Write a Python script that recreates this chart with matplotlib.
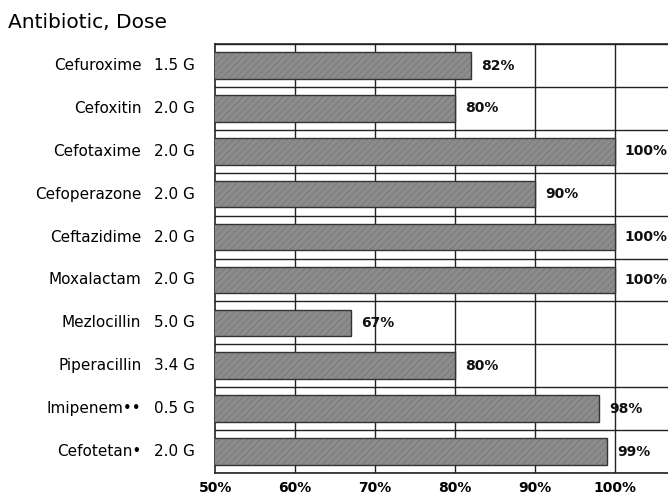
import matplotlib
matplotlib.use("Agg")
import matplotlib.pyplot as plt
import numpy as np

antibiotics = ["Cefuroxime", "Cefoxitin", "Cefotaxime", "Cefoperazone", "Ceftazidime",
               "Moxalactam", "Mezlocillin", "Piperacillin", "Imipenem\u2022\u2022", "Cefotetan\u2022"]
doses = ["1.5 G", "2.0 G", "2.0 G", "2.0 G", "2.0 G", "2.0 G", "5.0 G", "3.4 G", "0.5 G", "2.0 G"]
percent = [82, 80, 100, 90, 100, 100, 67, 80, 98, 99]
xticks = [50, 60, 70, 80, 90, 100]

plt.rcParams['font.family'] = ['DejaVu Sans']
plt.rcParams['hatch.linewidth'] = 0.6

fig = plt.figure(figsize=(6.68, 5.01), dpi=100)
ax = fig.add_axes([0.322, 0.056, 0.678, 0.856])

y = np.arange(len(antibiotics))
# stippled look: gray fill with fine hatch, then dark outline on top
ax.barh(y, percent, height=0.62, color='#8c8c8c', edgecolor='#787878', linewidth=0,
        hatch='/////', zorder=3)
ax.barh(y, percent, height=0.62, fill=False, edgecolor='#333333', linewidth=1.0, zorder=3)

ax.set_xlim(50, 106.6)
ax.set_ylim(len(antibiotics) - 0.5, -0.5)

# grid: vertical lines at ticks, horizontal row separators
for xv in xticks[1:]:
    ax.axvline(xv, color='#222222', lw=1.0, zorder=1)
for yv in np.arange(len(antibiotics) + 1) - 0.5:
    ax.axhline(yv, color='#222222', lw=1.0, zorder=1)

for i, v in enumerate(percent):
    ax.text(v + 1.2, y[i], f"{v}%", va='center', ha='left', fontsize=10,
            fontweight='semibold', color='#111111', zorder=4)

ax.set_xticks(xticks)
ax.set_xticklabels([f"{t}%" for t in xticks], fontsize=10, fontweight='bold')
ax.tick_params(axis='x', length=0, pad=6)
ax.set_yticks([])

# y labels: name and dose columns
for i in range(len(antibiotics)):
    ax.text(-0.044, y[i], doses[i], transform=ax.get_yaxis_transform(), ha='right',
            va='center', fontsize=11)
    ax.text(-0.163, y[i], antibiotics[i], transform=ax.get_yaxis_transform(), ha='right',
            va='center', fontsize=11)

ax.spines['right'].set_visible(False)
for s in ['left', 'top', 'bottom']:
    ax.spines[s].set_linewidth(1.2)
    ax.spines[s].set_color('#222222')

fig.text(0.012, 0.955, "Antibiotic, Dose", fontsize=14.5, ha='left', va='center')

fig.savefig("out.png", dpi=100)
